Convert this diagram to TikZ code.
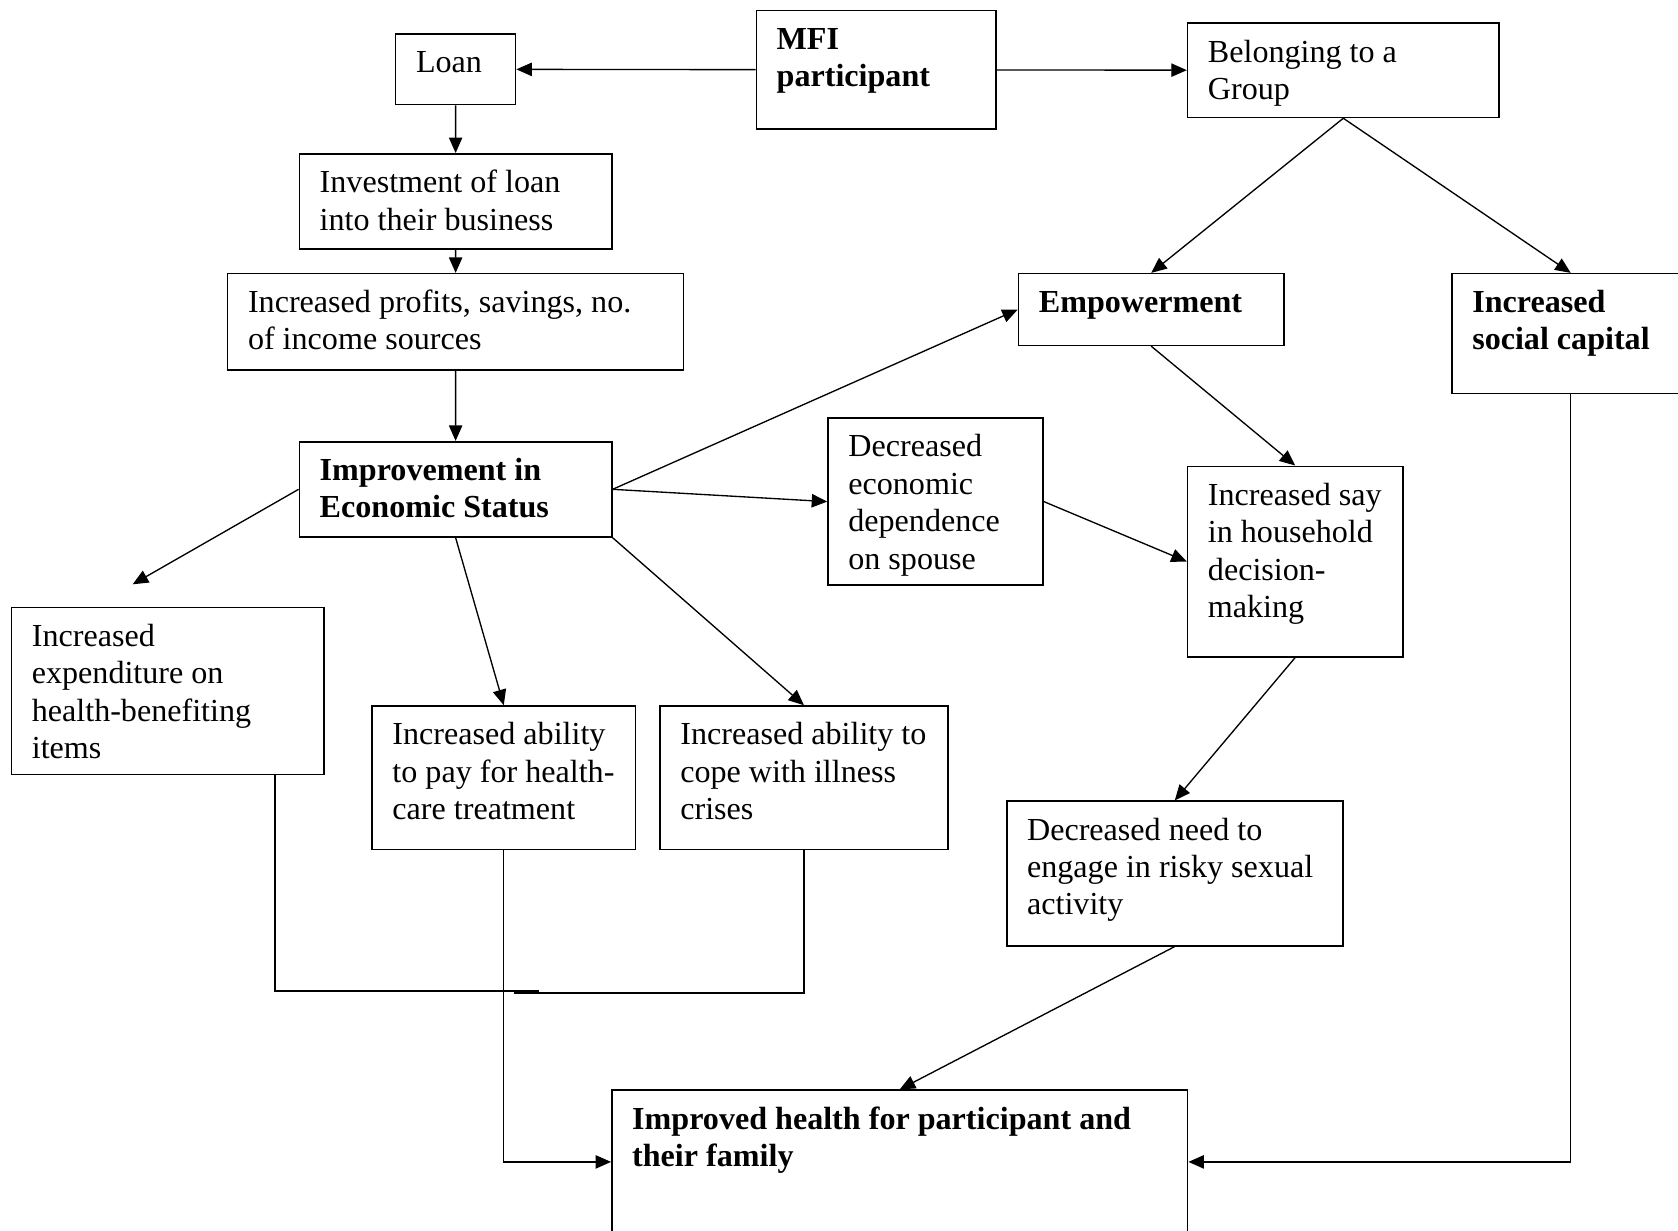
\documentclass[tikz,border=0pt]{standalone}
\usepackage{fontspec}
\setmainfont{Liberation Serif}
\usetikzlibrary{arrows.meta}

\tikzset{
  box/.style 2 args={draw, line width=0.6pt, anchor=north west, inner xsep=0pt, inner ysep=4.7pt,
    font=\fontsize{12}{14}\selectfont,
    execute at begin node={\begin{minipage}[t][\dimexpr #2pt*4/10-9.4pt\relax][t]{\dimexpr #1pt*4/10\relax}\raggedright\leftskip=7.6pt\strut},
    execute at end node={\end{minipage}}},
  bold/.style={font=\fontsize{12}{14}\selectfont\bfseries},
  arr/.style={-{Triangle[length=5.8pt,width=5pt]}, line width=0.5pt},
  link/.style={line width=0.5pt}
}

\begin{document}
\begin{tikzpicture}[x=0.4pt,y=-0.4pt]
\clip (0,0) rectangle (1568,1150);

\node[box={224}{111}, bold] at (706,9) (mfi) {MFI\\participant};
\node[box={112}{66}] at (369,31) (loan) {Loan};
\node[box={291}{88}] at (1109,21) (group) {Belonging to a\\Group};
\node[box={292}{89}] at (279,143) (invest) {Investment of loan\\into their business};
\node[box={426}{90}] at (212,255) (profits) {Increased profits, savings, no.\\of income sources};
\node[box={248}{67}, bold] at (951,255) (empow) {Empowerment};
\node[box={222}{112}, bold] at (1356,255) (social) {Increased\\social capital};
\node[box={292}{89}, bold] at (279,412) (improve) {Improvement in\\Economic Status};
\node[box={201}{156}] at (773,390) (decr) {Decreased\\economic\\dependence\\on spouse};
\node[box={201}{178}] at (1109,435) (say) {Increased say\\in household\\decision-\\making};
\node[box={292}{156}] at (10,567) (exp) {Increased\\expenditure on\\health-benefiting\\items};
\node[box={246}{134}] at (347,659) (pay) {Increased ability\\to pay for health-\\care treatment};
\node[box={269}{134}] at (616,659) (cope) {Increased ability to\\cope with illness\\crises};
\node[box={314}{135}] at (940,748) (risky) {Decreased need to\\engage in risky sexual\\activity};
\node[box={538}{134}, bold] at (571,1018) (health) {Improved health for participant and\\their family};

\coordinate (expin) at (124,546);
\coordinate (expturn) at (257,926);
\coordinate (expend) at (504,926);
\coordinate (copeend) at (480,928);

\draw[arr] (mfi) -- (loan);
\draw[arr] (mfi) -- (group);
\draw[arr] (loan) -- (invest);
\draw[arr] (invest) -- (profits);
\draw[arr] (profits) -- (improve);
\draw[arr] (group.south) -- (empow.north);
\draw[arr] (group.south) -- (social.north);
\draw[arr] (improve.east) -- (empow.west);
\draw[arr] (improve.east) -- (decr.west);
\draw[arr] (improve.west) -- (expin);
\draw[arr] (improve.south) -- (pay.north);
\draw[arr] (improve.south east) -- (cope.north);
\draw[arr] (empow.south) -- (say.north);
\draw[arr] (decr.east) -- (say.west);
\draw[arr] (say.south) -- (risky.north);
\draw[arr] (risky.south) -- (health.north);
\draw[arr] (social.south) |- (health.east);
\draw[arr] (pay.south) |- (health.west);
\draw[link] (exp.south -| expturn) -- (expturn) -- (expend);
\draw[link] (cope.south) |- (copeend);
\end{tikzpicture}
\end{document}
